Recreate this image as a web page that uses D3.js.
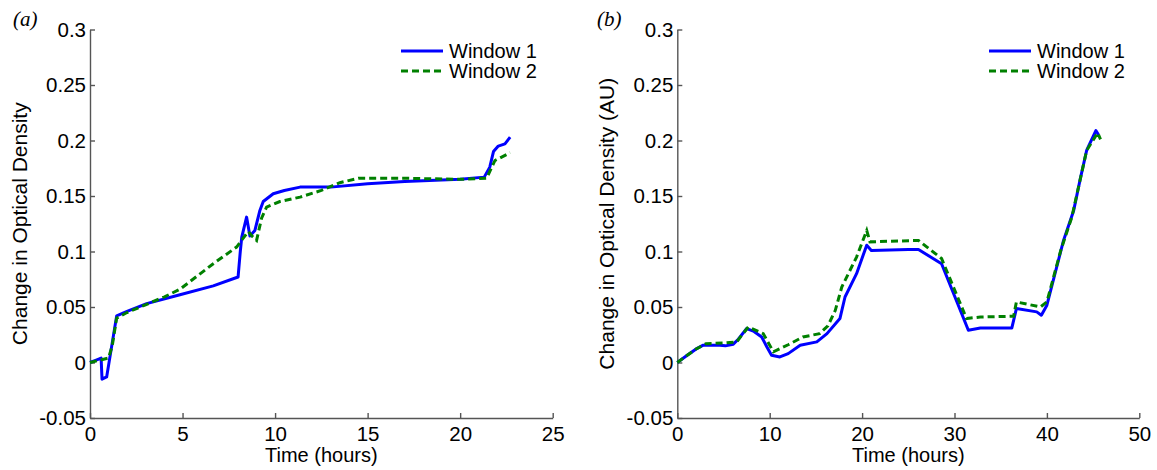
<!DOCTYPE html>
<html>
<head>
<meta charset="utf-8">
<script src="https://cdn.jsdelivr.net/npm/d3@7"></script>
<style>
  html, body { margin: 0; padding: 0; background: #fff; }
  svg { display: block; }
  text { font-family: "Liberation Sans", Arial, sans-serif; fill: #000; }
  text.tag { font-family: "Liberation Serif", "Times New Roman", serif; font-style: italic; }
</style>
</head>
<body>
<svg id="chart" width="1157" height="470"></svg>
<script>
// ---------- data ----------
const seriesNames = ["Window 1", "Window 2"];
const xTicksA = [0, 5, 10, 15, 20, 25];
const xTicksB = [0, 10, 20, 30, 40, 50];
const yTicks = [-0.05, 0, 0.05, 0.1, 0.15, 0.2, 0.25, 0.3];
const yTickLabels = ["-0.05", "0", "0.05", "0.1", "0.15", "0.2", "0.25", "0.3"];

// panel (a)
const aW1_t = [0, 0.3, 0.6, 0.65, 0.9, 1.44, 2.0, 3.06, 4.86, 6.66, 8.0, 8.12, 8.2, 8.46, 8.64, 8.91, 9.18, 9.36, 9.9, 10.5, 11.35, 13, 15, 17, 20, 21.3, 21.6, 21.8, 22.06, 22.42, 22.7];
const aW1_v = [0, 0.002, 0.004, -0.015, -0.013, 0.042, 0.046, 0.053, 0.061, 0.069, 0.077, 0.100, 0.113, 0.131, 0.114, 0.119, 0.137, 0.145, 0.152, 0.155, 0.158, 0.158, 0.161, 0.163, 0.165, 0.167, 0.176, 0.190, 0.195, 0.197, 0.203];
const aW2_t = [0, 0.5, 1.0, 1.2, 1.44, 2, 3, 4, 4.86, 5.8, 6.66, 7.92, 8.55, 8.8, 9.0, 9.27, 9.54, 10.26, 11.35, 12.5, 13.5, 14.5, 17, 20, 21.43, 21.88, 22.7];
const aW2_v = [0, 0.002, 0.004, 0.015, 0.040, 0.045, 0.052, 0.059, 0.066, 0.078, 0.089, 0.104, 0.118, 0.113, 0.110, 0.130, 0.140, 0.145, 0.149, 0.155, 0.162, 0.166, 0.166, 0.165, 0.166, 0.182, 0.189];

// panel (b)
const bW1_t = [0, 1, 2, 2.81, 4.62, 5.2, 6.06, 6.6, 7.51, 8.3, 9.13, 9.7, 10.2, 11.1, 12, 13.3, 15.1, 16.2, 17.6, 18.15, 19.4, 20.5, 21.0, 25.0, 26.1, 28.6, 31.5, 32.8, 36.2, 36.7, 38.9, 39.4, 40.0, 41.8, 42.9, 43.6, 44.3, 45.3, 45.6];
const bW1_v = [0, 0.006, 0.012, 0.0156, 0.0155, 0.015, 0.0165, 0.021, 0.0306, 0.028, 0.023, 0.014, 0.0066, 0.005, 0.008, 0.0156, 0.0186, 0.026, 0.0396, 0.059, 0.080, 0.1057, 0.101, 0.1018, 0.1018, 0.089, 0.029, 0.031, 0.031, 0.0486, 0.0456, 0.0426, 0.0516, 0.110, 0.137, 0.165, 0.191, 0.209, 0.205];
const bW2_t = [0, 1, 2, 3.1, 5, 6.43, 7.68, 9.3, 10.4, 12, 13.6, 15.4, 16.3, 17.1, 17.8, 19.4, 20.5, 20.85, 26.1, 28.6, 31.3, 32.8, 36.4, 36.7, 39.3, 40.0, 41.5, 42.7, 44.3, 45.5, 45.8];
const bW2_v = [0, 0.006, 0.012, 0.017, 0.0175, 0.0186, 0.032, 0.026, 0.0096, 0.016, 0.023, 0.026, 0.033, 0.047, 0.068, 0.095, 0.119, 0.1087, 0.110, 0.0937, 0.0396, 0.041, 0.0417, 0.0546, 0.050, 0.0546, 0.101, 0.131, 0.191, 0.207, 0.201];

// ---------- drawing ----------
const svg = d3.select("#chart");
const AXIS_COLOR = "#555";
const colors = ["#0000ff", "#008000"];

function zip(t, v) { return t.map((d, i) => [d, v[i]]); }

function panel(opts) {
  const { x0, x1, xMax, xTicks, ylabel, tag, tagX, legendX, seriesA, seriesB } = opts;
  const y0 = 418, y1 = 29.5;
  const x = d3.scaleLinear().domain([0, xMax]).range([x0, x1]);
  const y = d3.scaleLinear().domain([-0.05, 0.3]).range([y0, y1]);
  const g = svg.append("g");

  // x axis
  const xa = g.append("g").attr("transform", `translate(0,${y0})`)
    .call(d3.axisBottom(x).tickValues(xTicks).tickFormat(d3.format("d"))
      .tickSizeInner(-5).tickSizeOuter(0).tickPadding(8));
  // y axis
  const ya = g.append("g").attr("transform", `translate(${x0},0)`)
    .call(d3.axisLeft(y).tickValues(yTicks).tickFormat((d, i) => yTickLabels[i])
      .tickSizeInner(-5).tickSizeOuter(0).tickPadding(4));
  [xa, ya].forEach(a => {
    a.select(".domain").attr("stroke", AXIS_COLOR).attr("stroke-width", 1.4);
    a.selectAll(".tick line").attr("stroke", AXIS_COLOR).attr("stroke-width", 1.4);
    a.selectAll(".tick text").attr("font-size", 20.5).attr("fill", "#000");
  });

  // lines
  const line = d3.line().x(d => x(d[0])).y(d => y(d[1]));
  g.append("path").datum(seriesA).attr("d", line)
    .attr("fill", "none").attr("stroke", colors[0]).attr("stroke-width", 3)
    .attr("stroke-linejoin", "round");
  g.append("path").datum(seriesB).attr("d", line)
    .attr("fill", "none").attr("stroke", colors[1]).attr("stroke-width", 3)
    .attr("stroke-dasharray", "7,4");

  // axis titles
  g.append("text").attr("x", (x0 + x1) / 2).attr("y", 462)
    .attr("text-anchor", "middle").attr("font-size", 20).text("Time (hours)");
  g.append("text")
    .attr("transform", `translate(${x0 - 63},${(y0 + y1) / 2}) rotate(-90)`)
    .attr("text-anchor", "middle").attr("font-size", 21).text(ylabel);

  // tag
  g.append("text").attr("class", "tag").attr("x", tagX).attr("y", 26)
    .attr("font-size", 21).text(tag);

  // legend
  seriesNames.forEach((name, i) => {
    const ly = 51 + i * 20;
    g.append("line").attr("x1", legendX).attr("x2", legendX + 42)
      .attr("y1", ly).attr("y2", ly)
      .attr("stroke", colors[i]).attr("stroke-width", 3)
      .attr("stroke-dasharray", i === 1 ? "7,4" : null);
    g.append("text").attr("x", legendX + 48).attr("y", ly)
      .attr("dy", "0.35em").attr("font-size", 20).text(name);
  });
}

panel({
  x0: 90, x1: 552.7, xMax: 25, xTicks: xTicksA,
  ylabel: "Change in Optical Density", tag: "(a)", tagX: 13, legendX: 401,
  seriesA: zip(aW1_t, aW1_v), seriesB: zip(aW2_t, aW2_v)
});
panel({
  x0: 677.3, x1: 1139.3, xMax: 50, xTicks: xTicksB,
  ylabel: "Change in Optical Density (AU)", tag: "(b)", tagX: 597, legendX: 989,
  seriesA: zip(bW1_t, bW1_v), seriesB: zip(bW2_t, bW2_v)
});
</script>
</body>
</html>
